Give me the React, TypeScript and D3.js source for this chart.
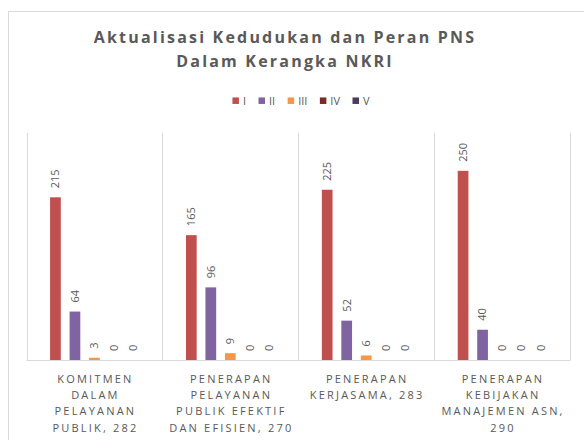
import React from "react";
import * as d3 from "d3";

const titleLines = ["Aktualisasi Kedudukan dan Peran PNS", "Dalam Kerangka NKRI"];
const categoryLines = [
  ["KOMITMEN", "DALAM", "PELAYANAN", "PUBLIK, 282"],
  ["PENERAPAN", "PELAYANAN", "PUBLIK EFEKTIF", "DAN EFISIEN, 270"],
  ["PENERAPAN", "KERJASAMA, 283"],
  ["PENERAPAN", "KEBIJAKAN", "MANAJEMEN ASN,", "290"],
];
const seriesNames = ["I", "II", "III", "IV", "V"];
const seriesColors = ["#C0504D", "#8064A2", "#F79646", "#772C2A", "#4D3B62"];
const valuesI = [215, 165, 225, 250];
const valuesII = [64, 96, 52, 40];
const valuesIII = [3, 9, 6, 0];
const valuesIV = [0, 0, 0, 0];
const valuesV = [0, 0, 0, 0];
const seriesValues = [valuesI, valuesII, valuesIII, valuesIV, valuesV];
const yMax = 300;

const W = 584;
const H = 440;
const FONT = "'Open Sans', 'DejaVu Sans', sans-serif";
const TEXT = "#595959";
const GRID = "#D9D9D9";

function measure(text: string, font: string): number {
  const c = document.createElement("canvas");
  const ctx = c.getContext("2d");
  if (!ctx) return text.length * 6;
  ctx.font = font;
  return ctx.measureText(text).width;
}

export default function App() {
  const plotLeft = 26.5;
  const plotRight = 570;
  const plotTop = 133;
  const plotBottom = 360;

  const x0 = d3
    .scaleBand<number>()
    .domain(d3.range(categoryLines.length))
    .range([plotLeft, plotRight])
    .paddingInner(0)
    .paddingOuter(0);
  const x1 = d3
    .scaleBand<number>()
    .domain(d3.range(seriesNames.length))
    .range([0, x0.bandwidth()])
    .paddingInner(0.45)
    .paddingOuter(1.21);
  const y = d3.scaleLinear().domain([0, yMax]).range([plotBottom, plotTop]);

  const boundaries = d3.range(categoryLines.length + 1).map((i) =>
    i < categoryLines.length ? (x0(i) as number) : plotRight
  );

  // legend layout
  const legendFontSize = 11;
  const legendFont = `${legendFontSize}px 'Open Sans'`;
  const sq = 6.5;
  const gap = 4;
  const spacing = 12.5;
  const widths = seriesNames.map((s) => measure(s, legendFont));
  const itemW = widths.map((w) => sq + gap + w);
  const totalW = d3.sum(itemW) + spacing * (seriesNames.length - 1);
  const legendCx = 301;
  const legendY = 100.7;
  let acc = legendCx - totalW / 2;
  const legendX = itemW.map((w) => {
    const p = acc;
    acc += w + spacing;
    return p;
  });

  return (
    <div style={{ position: "absolute", left: 0, top: 0 }}>
      <svg width={W} height={H} style={{ display: "block", background: "#fff" }}>
        <rect x={8.5} y={11.5} width={W + 20} height={H + 20} fill="#fff" stroke={GRID} strokeWidth={1} />
        {titleLines.map((t, i) => (
          <text
            key={t}
            x={285}
            y={42.5 + i * 24.5}
            textAnchor="middle"
            fontFamily={FONT}
            fontWeight={700}
            fontSize={16}
            letterSpacing={2.2}
            fill={TEXT}
          >
            {t}
          </text>
        ))}
        {seriesNames.map((s, i) => (
          <g key={s}>
            <rect x={legendX[i]} y={legendY - sq / 2} width={sq} height={sq} fill={seriesColors[i]} />
            <text
              x={legendX[i] + sq + gap}
              y={legendY}
              dy="0.35em"
              fontFamily={FONT}
              fontSize={legendFontSize}
              fill={TEXT}
            >
              {s}
            </text>
          </g>
        ))}
        {boundaries.map((bx, i) => (
          <line key={i} x1={Math.round(bx) + 0.5} x2={Math.round(bx) + 0.5} y1={plotTop} y2={plotBottom} stroke={GRID} strokeWidth={1} />
        ))}
        {categoryLines.map((_, ci) =>
          seriesValues.map((vals, si) => {
            const bx = (x0(ci) as number) + (x1(si) as number);
            const v = vals[ci];
            return (
              <rect
                key={`${ci}-${si}`}
                x={bx}
                y={y(v)}
                width={x1.bandwidth()}
                height={plotBottom - y(v)}
                fill={seriesColors[si]}
              />
            );
          })
        )}
        <line x1={plotLeft} x2={plotRight + 0.5} y1={plotBottom + 0.5} y2={plotBottom + 0.5} stroke={GRID} strokeWidth={1} />
        {categoryLines.map((_, ci) =>
          seriesValues.map((vals, si) => {
            const cx = (x0(ci) as number) + (x1(si) as number) + x1.bandwidth() / 2;
            const v = vals[ci];
            const ty = y(v) - 9;
            return (
              <text
                key={`l-${ci}-${si}`}
                transform={`translate(${cx},${ty}) rotate(-90)`}
                dy="0.35em"
                textAnchor="start"
                fontFamily={FONT}
                fontSize={11}
                fill={TEXT}
              >
                {v}
              </text>
            );
          })
        )}
        {categoryLines.map((lines, ci) => {
          const cx = (x0(ci) as number) + x0.bandwidth() / 2;
          return (
            <text key={`c-${ci}`} textAnchor="middle" fontFamily={FONT} fontSize={11} letterSpacing={2.2} fill={TEXT}>
              {lines.map((ln, li) => (
                <tspan key={li} x={cx + 1} y={382.7 + li * 16.35}>
                  {ln}
                </tspan>
              ))}
            </text>
          );
        })}
      </svg>
    </div>
  );
}
